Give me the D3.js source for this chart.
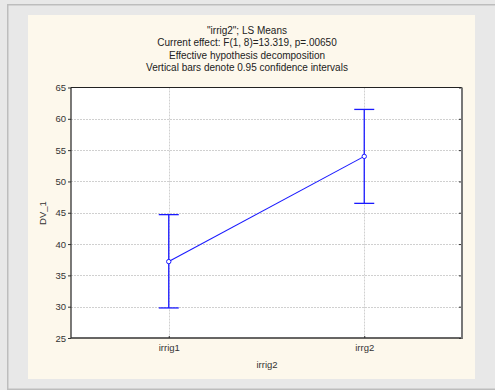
<!DOCTYPE html>
<html><head><meta charset="utf-8">
<script src="https://cdn.jsdelivr.net/npm/d3@7"></script>
<style>html,body{margin:0;padding:0;background:#e8e8e8;}svg{display:block;}</style>
</head><body>
<script>
const categories = ["irrig1", "irrg2"];
const means = [37.2, 54.0];
const upper = [44.7, 61.5];
const lower = [29.8, 46.5];
const yTicks = [25, 30, 35, 40, 45, 50, 55, 60, 65];
const titleLines = ["\"irrig2\"; LS Means", "Current effect: F(1, 8)=13.319, p=.00650", "Effective hypothesis decomposition", "Vertical bars denote 0.95 confidence intervals"];
const xTitle = "irrig2";
const yTitle = "DV_1";

const W = 495, H = 390;
const svg = d3.select("body").append("svg").attr("width", W).attr("height", H);
const font = "'Liberation Sans', Arial, sans-serif";

// outer background & borders
svg.append("rect").attr("x",0).attr("y",0).attr("width",W).attr("height",H).attr("fill","#e8e8e8");
svg.append("rect").attr("x",7).attr("y",4).attr("width",W-7).attr("height",1.5).attr("fill","#bdbdbd");
svg.append("rect").attr("x",7).attr("y",4).attr("width",1.5).attr("height",386).attr("fill","#bdbdbd");
svg.append("rect").attr("x",7).attr("y",388.5).attr("width",W-7).attr("height",1.5).attr("fill","#bdbdbd");
// cream panel
svg.append("rect").attr("x",28).attr("y",15).attr("width",447).attr("height",364).attr("fill","#fdf8ec");

const L = 71, T = 87.5, R = 462, B = 338;
const x = d3.scalePoint().domain(categories).range([L, R]).padding(0.5);
const y = d3.scaleLinear().domain([25, 65]).range([B, T]);

svg.append("rect").attr("x",L).attr("y",T).attr("width",R-L).attr("height",B-T).attr("fill","#ffffff");

// grid
const g = svg.append("g");
g.selectAll(".hg").data(yTicks.filter(d=>d>25 && d<65)).enter().append("line")
  .attr("x1",L).attr("x2",R).attr("y1",d=>Math.round(y(d))+0.5).attr("y2",d=>Math.round(y(d))+0.5)
  .attr("stroke","#c4c4c4").attr("stroke-width",0.8).attr("stroke-dasharray","2,1");
g.selectAll(".vg").data(categories).enter().append("line")
  .attr("x1",d=>Math.round(x(d))+0.5).attr("x2",d=>Math.round(x(d))+0.5).attr("y1",T).attr("y2",B)
  .attr("stroke","#c4c4c4").attr("stroke-width",0.8).attr("stroke-dasharray","2,1");

// axes
const yAxis = d3.axisLeft(y).tickValues(yTicks).tickSize(3).tickPadding(3).tickFormat(d3.format("d"));
const ya = svg.append("g").attr("transform",`translate(${L},0)`).call(yAxis);
ya.select(".domain").remove();
ya.selectAll("line").attr("stroke","#333");
ya.selectAll("text").attr("font-family",font).attr("font-size","9.5px").attr("fill","#333").attr("x",-5);

const yAxisR = d3.axisLeft(y).tickValues(yTicks).tickSize(3).tickFormat("");
const yr = svg.append("g").attr("transform",`translate(${R},0)`).call(yAxisR);
yr.select(".domain").remove();
yr.selectAll("line").attr("stroke","#333");

const xAxis = d3.axisBottom(x).tickSize(-2).tickPadding(10);
const xa = svg.append("g").attr("transform",`translate(0,${B})`).call(xAxis);
xa.select(".domain").remove();
xa.selectAll("line").attr("stroke","#333");
xa.selectAll("text").attr("font-family",font).attr("font-size","9.5px").attr("fill","#333").attr("dy","0.3em");

// frame
svg.append("line").attr("x1",L).attr("x2",R).attr("y1",T).attr("y2",T).attr("stroke","#222").attr("stroke-width",1.2);
svg.append("line").attr("x1",L).attr("x2",L).attr("y1",T).attr("y2",B).attr("stroke","#222").attr("stroke-width",1.2);
svg.append("line").attr("x1",L).attr("x2",R+1).attr("y1",B).attr("y2",B).attr("stroke","#333").attr("stroke-width",1.5);
svg.append("line").attr("x1",R).attr("x2",R).attr("y1",T).attr("y2",B+0.7).attr("stroke","#777").attr("stroke-width",2);

// data
const blue = "#1a1aff";
const idx = d3.range(categories.length);
svg.append("g").selectAll("line").data(idx).enter().append("line")
  .attr("x1",i=>x(categories[i])).attr("x2",i=>x(categories[i]))
  .attr("y1",i=>y(lower[i])).attr("y2",i=>y(upper[i]))
  .attr("stroke",blue).attr("stroke-width",1.3);
const capW = 10;
[upper, lower].forEach(arr => {
  svg.append("g").selectAll("line").data(idx).enter().append("line")
    .attr("x1",i=>x(categories[i])-capW).attr("x2",i=>x(categories[i])+capW)
    .attr("y1",i=>y(arr[i])).attr("y2",i=>y(arr[i]))
    .attr("stroke",blue).attr("stroke-width",1.3);
});
svg.append("path").datum(idx)
  .attr("d", d3.line().x(i=>x(categories[i])).y(i=>y(means[i])))
  .attr("fill","none").attr("stroke",blue).attr("stroke-width",1.1);
svg.append("g").selectAll("circle").data(idx).enter().append("circle")
  .attr("cx",i=>x(categories[i])).attr("cy",i=>y(means[i])).attr("r",2.2)
  .attr("fill","#fff").attr("stroke",blue).attr("stroke-width",1);

// titles
svg.append("g").selectAll("text").data(titleLines).enter().append("text")
  .attr("x",247).attr("y",(d,i)=>34+i*12.3).attr("text-anchor","middle")
  .attr("font-family",font).attr("font-size","10px").attr("fill","#222").text(d=>d);

svg.append("text").attr("x",267).attr("y",368).attr("text-anchor","middle")
  .attr("font-family",font).attr("font-size","9.5px").attr("fill","#333").text(xTitle);
svg.append("text").attr("transform","translate(46,213) rotate(-90)").attr("text-anchor","middle")
  .attr("font-family",font).attr("font-size","9.5px").attr("fill","#333").text(yTitle);
</script>
</body></html>
